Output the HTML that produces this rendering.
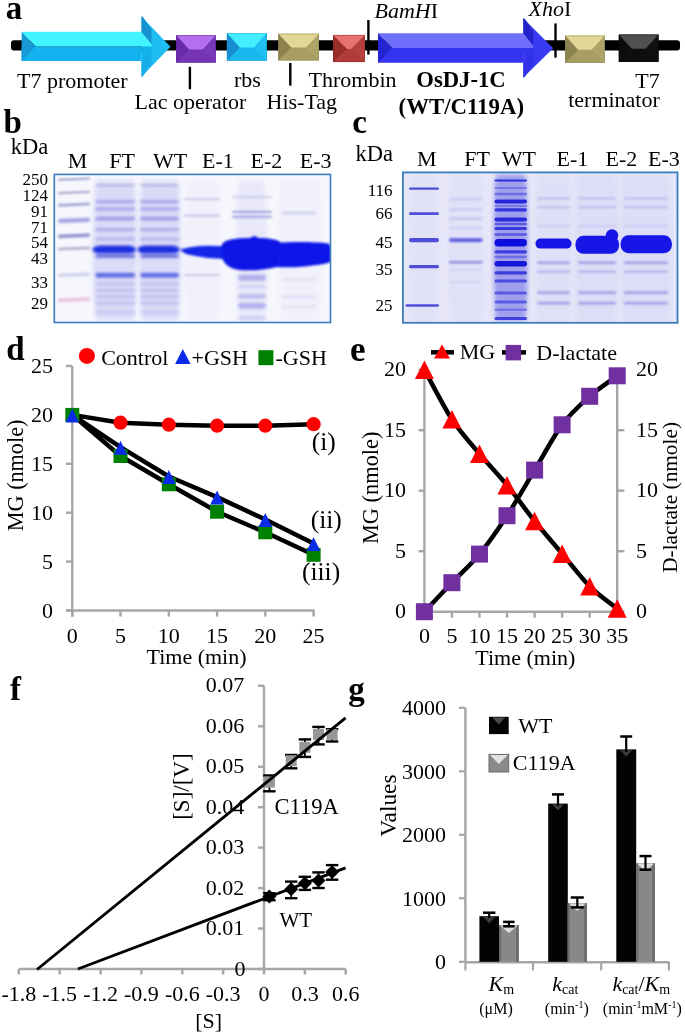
<!DOCTYPE html>
<html><head><meta charset="utf-8"><style>
html,body{margin:0;padding:0;background:#fff;}
svg{display:block;will-change:transform;}
text{font-family:"Liberation Serif",serif;}
</style></head><body>
<svg width="685" height="1033" viewBox="0 0 685 1033">
<rect width="685" height="1033" fill="#fff"/>
<defs>
<filter id="b05" x="-10%" y="-100%" width="120%" height="300%"><feGaussianBlur stdDeviation="0.6"/></filter>
<filter id="b15" x="-10%" y="-100%" width="120%" height="300%"><feGaussianBlur stdDeviation="1.4"/></filter>
<filter id="b1" x="-10%" y="-100%" width="120%" height="300%"><feGaussianBlur stdDeviation="1"/></filter>
<filter id="b2" x="-10%" y="-10%" width="120%" height="120%"><feGaussianBlur stdDeviation="2"/></filter>
<clipPath id="clipb"><rect x="54.3" y="174.4" width="276.2" height="148.1"/></clipPath>
<clipPath id="clipc"><rect x="402.9" y="172.4" width="274.6" height="150.4"/></clipPath>
</defs>
<text x="5.8" y="18.5" font-size="33" font-weight="bold" fill="#000" >a</text>
<rect x="11" y="40.2" width="669" height="10.2" rx="3" fill="#000"/>
<polygon points="21.6,46.4 141.5,46.4 141.5,61.0 21.6,61.0" fill="#12B2EE" />
<polygon points="141.5,16.6 170.5,46.8 141.5,76.8" fill="#1FBDF2" />
<polygon points="141.5,61.0 151.5,48.4 151.5,46.4 141.5,46.4" fill="#12B2EE" />
<polygon points="21.6,31.8 141.5,31.8 151.5,43.9 151.5,46.4 35.6,46.4" fill="#42F4FF" />
<polygon points="21.6,31.8 35.6,46.4 21.6,61.0" fill="#1A98D6" />
<polygon points="141.5,16.6 142.5,16.6 151.5,29.6 151.5,43.9 141.5,31.8" fill="#1690D0" />
<polygon points="141.5,76.8 142.5,76.8 151.5,63.8 151.5,48.4 141.5,61.0" fill="#17AEE8" />
<rect x="176.2" y="35.2" width="39.5" height="27.5" fill="#7434B4"/>
<polygon points="176.2,35.2 189.2,49.5 176.2,62.7" fill="#6A2AA8" />
<polygon points="215.7,35.2 202.7,49.5 215.7,62.7" fill="#7838B8" />
<polygon points="176.2,35.2 215.7,35.2 202.7,49.5 189.2,49.5" fill="#B46EF0" />
<rect x="176.6" y="35.6" width="38.7" height="26.7" fill="none" stroke="#5a2094" stroke-width="0.6" stroke-opacity="0.6"/>
<rect x="226.9" y="33.0" width="39.9" height="27.8" fill="#1AB8EE"/>
<polygon points="226.9,33.0 239.9,47.4 226.9,60.8" fill="#168ED0" />
<polygon points="266.8,33.0 253.8,47.4 266.8,60.8" fill="#20C0F2" />
<polygon points="226.9,33.0 266.8,33.0 253.8,47.4 239.9,47.4" fill="#45EEFF" />
<rect x="227.3" y="33.4" width="39.1" height="27.0" fill="none" stroke="#1490cc" stroke-width="0.6" stroke-opacity="0.6"/>
<rect x="278.4" y="33.7" width="40.6" height="26.8" fill="#A89E62"/>
<polygon points="278.4,33.7 291.4,47.6 278.4,60.5" fill="#8C8350" />
<polygon points="319.0,33.7 306.0,47.6 319.0,60.5" fill="#AEA468" />
<polygon points="278.4,33.7 319.0,33.7 306.0,47.6 291.4,47.6" fill="#E2D796" />
<rect x="278.8" y="34.1" width="39.8" height="26.0" fill="none" stroke="#857c48" stroke-width="0.6" stroke-opacity="0.6"/>
<rect x="333.0" y="34.9" width="32.0" height="27.2" fill="#B03C38"/>
<polygon points="333.0,34.9 347.0,49.0 333.0,62.1" fill="#982E2A" />
<polygon points="365.0,34.9 351.0,49.0 365.0,62.1" fill="#B6403C" />
<polygon points="333.0,34.9 365.0,34.9 351.0,49.0 347.0,49.0" fill="#E87272" />
<rect x="333.4" y="35.3" width="31.2" height="26.4" fill="none" stroke="#8a2622" stroke-width="0.6" stroke-opacity="0.6"/>
<polygon points="378.0,48.1 523.3,48.1 523.3,62.8 378.0,62.8" fill="#3434F0" />
<polygon points="523.3,18.2 553.2,48.2 523.3,77.6" fill="#3A3AF4" />
<polygon points="523.3,62.8 533.3,50.1 533.3,48.1 523.3,48.1" fill="#3434F0" />
<polygon points="378.0,33.2 523.3,33.2 533.3,45.6 533.3,48.1 392.0,48.1" fill="#6E6EFA" />
<polygon points="378.0,33.2 392.0,48.1 378.0,62.8" fill="#2424D2" />
<polygon points="523.3,18.2 524.3,18.2 533.3,31.2 533.3,45.6 523.3,33.2" fill="#2222C8" />
<polygon points="523.3,77.6 524.3,77.6 533.3,64.6 533.3,50.1 523.3,62.8" fill="#3030E6" />
<rect x="565.2" y="35.6" width="39.5" height="27.3" fill="#A89E62"/>
<polygon points="565.2,35.6 578.2,49.8 565.2,62.9" fill="#8C8350" />
<polygon points="604.7,35.6 591.7,49.8 604.7,62.9" fill="#AEA468" />
<polygon points="565.2,35.6 604.7,35.6 591.7,49.8 578.2,49.8" fill="#E2D796" />
<rect x="565.6" y="36.0" width="38.7" height="26.5" fill="none" stroke="#857c48" stroke-width="0.6" stroke-opacity="0.6"/>
<rect x="618.8" y="34.6" width="39.7" height="27.4" fill="#0E0E0E"/>
<polygon points="618.8,34.6 631.8,48.8 618.8,62.0" fill="#0C0C0C" />
<polygon points="658.5,34.6 645.5,48.8 658.5,62.0" fill="#101010" />
<polygon points="618.8,34.6 658.5,34.6 645.5,48.8 631.8,48.8" fill="#505050" />
<rect x="619.2" y="35.0" width="38.9" height="26.6" fill="none" stroke="#000" stroke-width="0.6" stroke-opacity="0.6"/>
<line x1="368.4" y1="20" x2="368.4" y2="54.6" stroke="#000" stroke-width="2.4"/>
<line x1="555.5" y1="23.4" x2="555.5" y2="57.7" stroke="#000" stroke-width="2.4"/>
<line x1="189.9" y1="66.8" x2="189.9" y2="89.2" stroke="#000" stroke-width="2.4"/>
<line x1="290.3" y1="63.0" x2="290.3" y2="85.6" stroke="#000" stroke-width="2.4"/>
<text x="17.0" y="87.7" font-size="22" fill="#000" >T7 promoter</text>
<text x="134.5" y="109.4" font-size="22" fill="#000" >Lac operator</text>
<text x="234.0" y="86.8" font-size="22" fill="#000" >rbs</text>
<text x="266.5" y="109.4" font-size="22" fill="#000" >His-Tag</text>
<text x="308.5" y="86.8" font-size="22" fill="#000" >Thrombin</text>
<text x="374.5" y="17.7" font-size="22"><tspan font-style="italic">BamH</tspan>I</text>
<text x="528.5" y="16.4" font-size="22"><tspan font-style="italic">Xho</tspan>I</text>
<text x="461.0" y="87.0" font-size="22.7" font-weight="bold" text-anchor="middle" fill="#000" >OsDJ-1C</text>
<text x="461.3" y="114.0" font-size="22.8" font-weight="bold" text-anchor="middle" fill="#000" >(WT/C119A)</text>
<text x="647.5" y="88.0" font-size="22" text-anchor="middle" fill="#000" >T7</text>
<text x="614.0" y="106.5" font-size="22" text-anchor="middle" fill="#000" >terminator</text>
<text x="3.6" y="133.3" font-size="33" font-weight="bold" fill="#000" >b</text>
<text x="10.7" y="154.0" font-size="22.5" fill="#000" >kDa</text>
<text x="77.5" y="167.8" font-size="22" text-anchor="middle" fill="#000" >M</text>
<text x="122.0" y="167.8" font-size="22" text-anchor="middle" fill="#000" >FT</text>
<text x="170.0" y="167.8" font-size="22" text-anchor="middle" fill="#000" >WT</text>
<text x="218.0" y="167.8" font-size="22" text-anchor="middle" fill="#000" >E-1</text>
<text x="266.5" y="167.8" font-size="22" text-anchor="middle" fill="#000" >E-2</text>
<text x="315.6" y="167.8" font-size="22" text-anchor="middle" fill="#000" >E-3</text>
<text x="48.0" y="184.7" font-size="17" text-anchor="end" fill="#000" >250</text>
<text x="48.0" y="200.5" font-size="17" text-anchor="end" fill="#000" >124</text>
<text x="48.0" y="216.5" font-size="17" text-anchor="end" fill="#000" >91</text>
<text x="48.0" y="232.6" font-size="17" text-anchor="end" fill="#000" >71</text>
<text x="48.0" y="248.3" font-size="17" text-anchor="end" fill="#000" >54</text>
<text x="48.0" y="264.0" font-size="17" text-anchor="end" fill="#000" >43</text>
<text x="48.0" y="287.8" font-size="17" text-anchor="end" fill="#000" >33</text>
<text x="48.0" y="309.0" font-size="17" text-anchor="end" fill="#000" >29</text>
<rect x="54.3" y="174.4" width="276.2" height="148.1" fill="#F6F6FD"/>
<g clip-path="url(#clipb)">
<rect x="93.0" y="180.4" width="44.0" height="140.1" rx="4.0" ry="70.0" fill="#D2D2F6" fill-opacity="0.75" filter="url(#b2)"/>
<rect x="139.0" y="180.4" width="42.0" height="140.1" rx="4.0" ry="70.0" fill="#D2D2F6" fill-opacity="0.75" filter="url(#b2)"/>
<rect x="184.0" y="180.4" width="37.4" height="140.1" rx="4.0" ry="70.0" fill="#E8E8F8" fill-opacity="0.35" filter="url(#b2)"/>
<rect x="236.0" y="180.4" width="31.0" height="140.1" rx="4.0" ry="70.0" fill="#DCDCF6" fill-opacity="0.55" filter="url(#b2)"/>
<rect x="278.0" y="180.4" width="44.0" height="140.1" rx="4.0" ry="70.0" fill="#E8E8F8" fill-opacity="0.35" filter="url(#b2)"/>
<g transform="rotate(-2.5 74 179.3)">
<rect x="58.0" y="178.6" width="32.2" height="1.4" rx="0.7" ry="0.7" fill="#7272A8" fill-opacity="0.85" filter="url(#b1)"/>
</g>
<g transform="rotate(-2.5 74 192.4)">
<rect x="58.0" y="191.7" width="32.2" height="1.5" rx="0.8" ry="0.8" fill="#7070AC" fill-opacity="0.85" filter="url(#b1)"/>
</g>
<g transform="rotate(-2.5 74 204.7)">
<rect x="58.0" y="203.6" width="32.2" height="2.2" rx="1.1" ry="1.1" fill="#7C7CB8" fill-opacity="0.8" filter="url(#b1)"/>
</g>
<g transform="rotate(-2.5 74 220.4)">
<rect x="58.0" y="218.3" width="32.2" height="4.2" rx="2.1" ry="2.1" fill="#9494E0" fill-opacity="0.85" filter="url(#b1)"/>
</g>
<g transform="rotate(-2.5 74 235.7)">
<rect x="58.0" y="234.0" width="32.2" height="3.4" rx="1.7" ry="1.7" fill="#8080C8" fill-opacity="0.85" filter="url(#b1)"/>
</g>
<g transform="rotate(-2.5 74 248.5)">
<rect x="58.0" y="247.3" width="32.2" height="2.4" rx="1.2" ry="1.2" fill="#8A8AB8" fill-opacity="0.7" filter="url(#b1)"/>
</g>
<g transform="rotate(-2.5 74 274.8)">
<rect x="58.0" y="273.3" width="32.2" height="3.0" rx="1.5" ry="1.5" fill="#B0B0DC" fill-opacity="0.6" filter="url(#b1)"/>
</g>
<g transform="rotate(-2.5 74 299.8)">
<rect x="58.0" y="298.1" width="32.2" height="3.5" rx="1.8" ry="1.8" fill="#E4B4D8" fill-opacity="0.8" filter="url(#b1)"/>
</g>
<rect x="95.4" y="184.6" width="39.6" height="1.5" rx="0.8" ry="0.8" fill="#8888C0" fill-opacity="0.7" filter="url(#b15)"/>
<rect x="95.4" y="200.2" width="39.6" height="3.0" rx="1.5" ry="1.5" fill="#9090E6" fill-opacity="0.8" filter="url(#b15)"/>
<rect x="95.4" y="207.5" width="39.6" height="3.0" rx="1.5" ry="1.5" fill="#9090E6" fill-opacity="0.8" filter="url(#b15)"/>
<rect x="95.4" y="216.9" width="39.6" height="3.4" rx="1.7" ry="1.7" fill="#8686E2" fill-opacity="0.85" filter="url(#b15)"/>
<rect x="95.4" y="228.2" width="39.6" height="2.8" rx="1.4" ry="1.4" fill="#9696E4" fill-opacity="0.8" filter="url(#b15)"/>
<rect x="95.4" y="237.5" width="39.6" height="3.0" rx="1.5" ry="1.5" fill="#A0A0E8" fill-opacity="0.7" filter="url(#b15)"/>
<rect x="95.4" y="254.3" width="39.6" height="3.4" rx="1.7" ry="1.7" fill="#4C58D8" fill-opacity="0.85" filter="url(#b15)"/>
<rect x="95.4" y="272.9" width="39.6" height="4.5" rx="2.2" ry="2.2" fill="#5060E0" fill-opacity="0.95" filter="url(#b15)"/>
<rect x="95.4" y="282.4" width="39.6" height="3.0" rx="1.5" ry="1.5" fill="#B0B0EA" fill-opacity="0.7" filter="url(#b15)"/>
<rect x="95.4" y="288.9" width="39.6" height="3.0" rx="1.5" ry="1.5" fill="#B0B0EC" fill-opacity="0.7" filter="url(#b15)"/>
<rect x="95.4" y="295.5" width="39.6" height="3.0" rx="1.5" ry="1.5" fill="#B0B0EC" fill-opacity="0.7" filter="url(#b15)"/>
<rect x="95.4" y="302.1" width="39.6" height="3.0" rx="1.5" ry="1.5" fill="#B4B4EC" fill-opacity="0.7" filter="url(#b15)"/>
<rect x="95.4" y="310.8" width="39.6" height="3.0" rx="1.5" ry="1.5" fill="#BCBCEE" fill-opacity="0.7" filter="url(#b15)"/>
<rect x="92.4" y="245.6" width="43.6" height="8.0" rx="9.0" ry="4.0" fill="#1E2EE0" fill-opacity="1" filter="url(#b15)"/>
<rect x="140.3" y="184.6" width="38.5" height="1.5" rx="0.8" ry="0.8" fill="#8888C0" fill-opacity="0.7" filter="url(#b15)"/>
<rect x="140.3" y="200.2" width="38.5" height="3.0" rx="1.5" ry="1.5" fill="#9090E6" fill-opacity="0.8" filter="url(#b15)"/>
<rect x="140.3" y="207.5" width="38.5" height="3.0" rx="1.5" ry="1.5" fill="#9090E6" fill-opacity="0.8" filter="url(#b15)"/>
<rect x="140.3" y="216.9" width="38.5" height="3.4" rx="1.7" ry="1.7" fill="#8686E2" fill-opacity="0.85" filter="url(#b15)"/>
<rect x="140.3" y="228.2" width="38.5" height="2.8" rx="1.4" ry="1.4" fill="#9696E4" fill-opacity="0.8" filter="url(#b15)"/>
<rect x="140.3" y="237.5" width="38.5" height="3.0" rx="1.5" ry="1.5" fill="#A0A0E8" fill-opacity="0.7" filter="url(#b15)"/>
<rect x="140.3" y="254.3" width="38.5" height="3.4" rx="1.7" ry="1.7" fill="#4C58D8" fill-opacity="0.85" filter="url(#b15)"/>
<rect x="140.3" y="272.9" width="38.5" height="4.5" rx="2.2" ry="2.2" fill="#5060E0" fill-opacity="0.95" filter="url(#b15)"/>
<rect x="140.3" y="282.4" width="38.5" height="3.0" rx="1.5" ry="1.5" fill="#B0B0EA" fill-opacity="0.7" filter="url(#b15)"/>
<rect x="140.3" y="288.9" width="38.5" height="3.0" rx="1.5" ry="1.5" fill="#B0B0EC" fill-opacity="0.7" filter="url(#b15)"/>
<rect x="140.3" y="295.5" width="38.5" height="3.0" rx="1.5" ry="1.5" fill="#B0B0EC" fill-opacity="0.7" filter="url(#b15)"/>
<rect x="140.3" y="302.1" width="38.5" height="3.0" rx="1.5" ry="1.5" fill="#B4B4EC" fill-opacity="0.7" filter="url(#b15)"/>
<rect x="140.3" y="310.8" width="38.5" height="3.0" rx="1.5" ry="1.5" fill="#BCBCEE" fill-opacity="0.7" filter="url(#b15)"/>
<rect x="137.3" y="245.6" width="42.5" height="8.0" rx="9.0" ry="4.0" fill="#1E2EE0" fill-opacity="1" filter="url(#b15)"/>
<rect x="184.0" y="198.4" width="36.0" height="1.5" rx="0.8" ry="0.8" fill="#A0A0D0" fill-opacity="0.6" filter="url(#b1)"/>
<rect x="184.0" y="214.5" width="36.0" height="2.0" rx="1.0" ry="1.0" fill="#A0A0D8" fill-opacity="0.6" filter="url(#b1)"/>
<rect x="184.0" y="274.4" width="36.0" height="1.5" rx="0.8" ry="0.8" fill="#A0A0D0" fill-opacity="0.6" filter="url(#b1)"/>
<rect x="232.0" y="196.2" width="40.0" height="1.5" rx="0.8" ry="0.8" fill="#A8A8D8" fill-opacity="0.6" filter="url(#b1)"/>
<rect x="232.0" y="211.0" width="40.0" height="2.0" rx="1.0" ry="1.0" fill="#8C8CD0" fill-opacity="0.8" filter="url(#b1)"/>
<rect x="232.0" y="215.7" width="40.0" height="2.0" rx="1.0" ry="1.0" fill="#8C8CD0" fill-opacity="0.8" filter="url(#b1)"/>
<rect x="238.0" y="274.8" width="28.0" height="6.0" rx="3.0" ry="3.0" fill="#A8A8EC" fill-opacity="0.9" filter="url(#b15)"/>
<rect x="238.0" y="285.0" width="28.0" height="3.0" rx="1.5" ry="1.5" fill="#C4C4F2" fill-opacity="0.7" filter="url(#b15)"/>
<rect x="238.0" y="294.2" width="28.0" height="4.0" rx="2.0" ry="2.0" fill="#ACACEC" fill-opacity="0.85" filter="url(#b15)"/>
<rect x="238.0" y="303.1" width="28.0" height="5.5" rx="2.8" ry="2.8" fill="#A8A8EC" fill-opacity="0.9" filter="url(#b15)"/>
<rect x="238.0" y="316.5" width="28.0" height="3.0" rx="1.5" ry="1.5" fill="#B8B8EE" fill-opacity="0.7" filter="url(#b15)"/>
<rect x="282.0" y="212.3" width="34.0" height="1.8" rx="0.9" ry="0.9" fill="#A8A8DC" fill-opacity="0.7" filter="url(#b15)"/>
<rect x="282.0" y="278.2" width="34.0" height="2.5" rx="1.2" ry="1.2" fill="#D0D0F0" fill-opacity="0.6" filter="url(#b15)"/>
<rect x="282.0" y="295.8" width="34.0" height="2.5" rx="1.2" ry="1.2" fill="#D0C8EC" fill-opacity="0.6" filter="url(#b15)"/>
<rect x="282.0" y="305.4" width="34.0" height="2.5" rx="1.2" ry="1.2" fill="#E0C8E8" fill-opacity="0.6" filter="url(#b15)"/>
<path d="M180,250 C190,246 205,245.5 215,246 L228,246 L228,258.5 C210,259.5 196,256 186,254 Z" fill="#1426E8" filter="url(#b1)"/>
<path d="M222,244 C226,238.5 240,238 250,238 C253,236 256,235.5 258,238 C268,238 276,239 280,242 L280,266 C268,270 250,271 240,270 C228,269 222,262 222,255 Z" fill="#0A16E6" filter="url(#b1)"/>
<path d="M276,243 C290,241.5 315,241.5 329,243.5 L331,247 L331,262 C318,266 295,268 278,267 Z" fill="#0C18E8" filter="url(#b1)"/>
</g>
<rect x="54.3" y="174.4" width="276.2" height="148.1" fill="none" stroke="#3A7CBC" stroke-width="1.6"/>
<text x="352.3" y="133.2" font-size="33" font-weight="bold" fill="#000" >c</text>
<text x="355.5" y="161.2" font-size="22.5" fill="#000" >kDa</text>
<text x="426.8" y="165.5" font-size="22" text-anchor="middle" fill="#000" >M</text>
<text x="477.2" y="165.5" font-size="22" text-anchor="middle" fill="#000" >FT</text>
<text x="518.9" y="165.5" font-size="22" text-anchor="middle" fill="#000" >WT</text>
<text x="572.5" y="165.5" font-size="22" text-anchor="middle" fill="#000" >E-1</text>
<text x="621.4" y="165.5" font-size="22" text-anchor="middle" fill="#000" >E-2</text>
<text x="664.0" y="165.5" font-size="22" text-anchor="middle" fill="#000" >E-3</text>
<text x="392.5" y="195.6" font-size="17" text-anchor="end" fill="#000" >116</text>
<text x="392.5" y="218.7" font-size="17" text-anchor="end" fill="#000" >66</text>
<text x="392.5" y="248.3" font-size="17" text-anchor="end" fill="#000" >45</text>
<text x="392.5" y="275.3" font-size="17" text-anchor="end" fill="#000" >35</text>
<text x="392.5" y="311.3" font-size="17" text-anchor="end" fill="#000" >25</text>
<rect x="402.9" y="172.4" width="274.6" height="150.4" fill="#E6E6F8"/>
<g clip-path="url(#clipc)">
<rect x="409.0" y="174.4" width="29.7" height="146.4" rx="3.0" ry="73.2" fill="#DCDCF6" fill-opacity="0.3" filter="url(#b2)"/>
<rect x="448.9" y="174.4" width="33.7" height="146.4" rx="3.0" ry="73.2" fill="#D8D8F6" fill-opacity="0.35" filter="url(#b2)"/>
<rect x="493.5" y="174.4" width="34.4" height="146.4" rx="3.0" ry="73.2" fill="#9C9CEC" fill-opacity="0.95" filter="url(#b2)"/>
<rect x="535.4" y="174.4" width="35.9" height="146.4" rx="3.0" ry="73.2" fill="#D8D8F6" fill-opacity="0.45" filter="url(#b2)"/>
<rect x="575.2" y="174.4" width="43.1" height="146.4" rx="3.0" ry="73.2" fill="#D4D4F6" fill-opacity="0.5" filter="url(#b2)"/>
<rect x="620.0" y="174.4" width="51.6" height="146.4" rx="3.0" ry="73.2" fill="#D4D4F6" fill-opacity="0.5" filter="url(#b2)"/>
<rect x="409.0" y="187.5" width="30.0" height="2.2" rx="1.1" ry="1.1" fill="#4646D8" fill-opacity="0.95" filter="url(#b05)"/>
<rect x="409.0" y="212.2" width="30.0" height="2.8" rx="1.4" ry="1.4" fill="#4646D8" fill-opacity="0.95" filter="url(#b05)"/>
<rect x="409.0" y="237.9" width="30.0" height="4.4" rx="2.2" ry="2.2" fill="#4646D8" fill-opacity="0.95" filter="url(#b05)"/>
<rect x="409.0" y="265.1" width="30.0" height="3.2" rx="1.6" ry="1.6" fill="#4646D8" fill-opacity="0.95" filter="url(#b05)"/>
<rect x="405.5" y="304.3" width="33.5" height="2.4" rx="1.2" ry="1.2" fill="#4646D8" fill-opacity="0.95" filter="url(#b05)"/>
<rect x="449.0" y="198.3" width="33.6" height="2.0" rx="1.0" ry="1.0" fill="#B8B8EE" fill-opacity="0.7" filter="url(#b1)"/>
<rect x="449.0" y="208.5" width="33.6" height="2.0" rx="1.0" ry="1.0" fill="#B8B8EE" fill-opacity="0.7" filter="url(#b1)"/>
<rect x="449.0" y="217.6" width="33.6" height="2.2" rx="1.1" ry="1.1" fill="#B4B4EC" fill-opacity="0.7" filter="url(#b1)"/>
<rect x="449.0" y="227.0" width="33.6" height="2.0" rx="1.0" ry="1.0" fill="#BCBCEE" fill-opacity="0.6" filter="url(#b1)"/>
<rect x="449.0" y="238.3" width="33.6" height="3.6" rx="1.8" ry="1.8" fill="#5252DC" fill-opacity="0.95" filter="url(#b1)"/>
<rect x="449.0" y="260.9" width="33.6" height="2.6" rx="1.3" ry="1.3" fill="#8484DE" fill-opacity="0.9" filter="url(#b1)"/>
<rect x="449.0" y="269.0" width="33.6" height="2.0" rx="1.0" ry="1.0" fill="#C8C8F0" fill-opacity="0.5" filter="url(#b1)"/>
<rect x="449.0" y="281.0" width="33.6" height="2.0" rx="1.0" ry="1.0" fill="#C8C8F0" fill-opacity="0.5" filter="url(#b1)"/>
<rect x="494.5" y="179.4" width="32.5" height="2.2" rx="1.1" ry="1.1" fill="#2828D8" fill-opacity="0.95" filter="url(#b05)"/>
<rect x="494.5" y="187.0" width="32.5" height="2.0" rx="1.0" ry="1.0" fill="#6A6AE4" fill-opacity="0.8" filter="url(#b05)"/>
<rect x="494.5" y="192.8" width="32.5" height="2.5" rx="1.2" ry="1.2" fill="#6060E0" fill-opacity="0.8" filter="url(#b05)"/>
<rect x="494.5" y="199.5" width="32.5" height="4.0" rx="2.0" ry="2.0" fill="#2020D8" fill-opacity="0.95" filter="url(#b05)"/>
<rect x="494.5" y="205.0" width="32.5" height="2.0" rx="1.0" ry="1.0" fill="#7070E4" fill-opacity="0.8" filter="url(#b05)"/>
<rect x="494.5" y="208.2" width="32.5" height="3.2" rx="1.6" ry="1.6" fill="#2828DC" fill-opacity="0.9" filter="url(#b05)"/>
<rect x="494.5" y="217.5" width="32.5" height="4.0" rx="2.0" ry="2.0" fill="#2424DC" fill-opacity="0.95" filter="url(#b05)"/>
<rect x="494.5" y="222.8" width="32.5" height="2.5" rx="1.2" ry="1.2" fill="#5050E0" fill-opacity="0.85" filter="url(#b05)"/>
<rect x="494.5" y="227.1" width="32.5" height="3.0" rx="1.5" ry="1.5" fill="#2C2CDC" fill-opacity="0.9" filter="url(#b05)"/>
<rect x="494.5" y="233.3" width="32.5" height="2.5" rx="1.2" ry="1.2" fill="#4A4AE0" fill-opacity="0.85" filter="url(#b05)"/>
<rect x="494.5" y="239.1" width="32.5" height="7.5" rx="3.8" ry="3.8" fill="#1010E0" fill-opacity="1" filter="url(#b05)"/>
<rect x="494.5" y="250.2" width="32.5" height="3.2" rx="1.6" ry="1.6" fill="#3434E0" fill-opacity="0.9" filter="url(#b05)"/>
<rect x="494.5" y="255.8" width="32.5" height="2.5" rx="1.2" ry="1.2" fill="#6060E4" fill-opacity="0.8" filter="url(#b05)"/>
<rect x="494.5" y="261.1" width="32.5" height="5.5" rx="2.8" ry="2.8" fill="#1414D8" fill-opacity="1" filter="url(#b05)"/>
<rect x="494.5" y="271.3" width="32.5" height="3.2" rx="1.6" ry="1.6" fill="#3030DC" fill-opacity="0.9" filter="url(#b05)"/>
<rect x="494.5" y="279.5" width="32.5" height="3.0" rx="1.5" ry="1.5" fill="#4040E0" fill-opacity="0.9" filter="url(#b05)"/>
<rect x="494.5" y="291.5" width="32.5" height="3.0" rx="1.5" ry="1.5" fill="#4C4CE0" fill-opacity="0.85" filter="url(#b05)"/>
<rect x="494.5" y="300.5" width="32.5" height="3.0" rx="1.5" ry="1.5" fill="#5050E0" fill-opacity="0.85" filter="url(#b05)"/>
<rect x="494.5" y="308.4" width="32.5" height="2.5" rx="1.2" ry="1.2" fill="#6A6AE4" fill-opacity="0.8" filter="url(#b05)"/>
<rect x="494.5" y="317.1" width="32.5" height="3.0" rx="1.5" ry="1.5" fill="#3434DC" fill-opacity="0.9" filter="url(#b05)"/>
<rect x="537.0" y="197.4" width="33.0" height="2.0" rx="1.0" ry="1.0" fill="#AEAEEA" fill-opacity="0.7" filter="url(#b1)"/>
<rect x="537.0" y="206.3" width="33.0" height="2.0" rx="1.0" ry="1.0" fill="#AEAEEA" fill-opacity="0.7" filter="url(#b1)"/>
<rect x="537.0" y="225.1" width="33.0" height="1.8" rx="0.9" ry="0.9" fill="#BCBCEE" fill-opacity="0.6" filter="url(#b1)"/>
<rect x="537.0" y="261.4" width="33.0" height="2.6" rx="1.3" ry="1.3" fill="#9090E0" fill-opacity="0.8" filter="url(#b1)"/>
<rect x="537.0" y="270.6" width="33.0" height="2.2" rx="1.1" ry="1.1" fill="#A0A0E4" fill-opacity="0.7" filter="url(#b1)"/>
<rect x="537.0" y="291.3" width="33.0" height="2.6" rx="1.3" ry="1.3" fill="#9494E2" fill-opacity="0.8" filter="url(#b1)"/>
<rect x="537.0" y="301.8" width="33.0" height="2.6" rx="1.3" ry="1.3" fill="#9494E2" fill-opacity="0.8" filter="url(#b1)"/>
<rect x="578.0" y="197.4" width="38.0" height="2.0" rx="1.0" ry="1.0" fill="#AEAEEA" fill-opacity="0.7" filter="url(#b1)"/>
<rect x="578.0" y="206.3" width="38.0" height="2.0" rx="1.0" ry="1.0" fill="#AEAEEA" fill-opacity="0.7" filter="url(#b1)"/>
<rect x="578.0" y="225.1" width="38.0" height="1.8" rx="0.9" ry="0.9" fill="#BCBCEE" fill-opacity="0.6" filter="url(#b1)"/>
<rect x="578.0" y="261.4" width="38.0" height="2.6" rx="1.3" ry="1.3" fill="#9090E0" fill-opacity="0.8" filter="url(#b1)"/>
<rect x="578.0" y="270.6" width="38.0" height="2.2" rx="1.1" ry="1.1" fill="#A0A0E4" fill-opacity="0.7" filter="url(#b1)"/>
<rect x="578.0" y="291.3" width="38.0" height="2.6" rx="1.3" ry="1.3" fill="#9494E2" fill-opacity="0.8" filter="url(#b1)"/>
<rect x="578.0" y="301.8" width="38.0" height="2.6" rx="1.3" ry="1.3" fill="#9494E2" fill-opacity="0.8" filter="url(#b1)"/>
<rect x="624.0" y="197.4" width="44.0" height="2.0" rx="1.0" ry="1.0" fill="#AEAEEA" fill-opacity="0.7" filter="url(#b1)"/>
<rect x="624.0" y="206.3" width="44.0" height="2.0" rx="1.0" ry="1.0" fill="#AEAEEA" fill-opacity="0.7" filter="url(#b1)"/>
<rect x="624.0" y="225.1" width="44.0" height="1.8" rx="0.9" ry="0.9" fill="#BCBCEE" fill-opacity="0.6" filter="url(#b1)"/>
<rect x="624.0" y="261.4" width="44.0" height="2.6" rx="1.3" ry="1.3" fill="#9090E0" fill-opacity="0.8" filter="url(#b1)"/>
<rect x="624.0" y="270.6" width="44.0" height="2.2" rx="1.1" ry="1.1" fill="#A0A0E4" fill-opacity="0.7" filter="url(#b1)"/>
<rect x="624.0" y="291.3" width="44.0" height="2.6" rx="1.3" ry="1.3" fill="#9494E2" fill-opacity="0.8" filter="url(#b1)"/>
<rect x="624.0" y="301.8" width="44.0" height="2.6" rx="1.3" ry="1.3" fill="#9494E2" fill-opacity="0.8" filter="url(#b1)"/>
<rect x="535.5" y="238.6" width="36" height="10" rx="5" ry="4.5" fill="#1818E6" filter="url(#b05)"/>
<rect x="575.5" y="235.8" width="43.5" height="18" rx="8" ry="8" fill="#1414E6" filter="url(#b05)"/>
<circle cx="612" cy="235.5" r="6.2" fill="#1414E6" filter="url(#b05)"/>
<rect x="620.5" y="235.2" width="51.5" height="18" rx="8" ry="8.5" fill="#1414E6" filter="url(#b05)"/>
</g>
<rect x="402.9" y="172.4" width="274.6" height="150.4" fill="none" stroke="#3A7CBC" stroke-width="1.8"/>
<text x="6.2" y="359.5" font-size="33" font-weight="bold" fill="#000" >d</text>
<line x1="72.3" y1="366.0" x2="72.3" y2="616.6" stroke="#A6A6A6" stroke-width="2.4" />
<line x1="66.0" y1="610.5" x2="314.6" y2="610.5" stroke="#A6A6A6" stroke-width="2.4" />
<line x1="66.0" y1="610.5" x2="72.3" y2="610.5" stroke="#A6A6A6" stroke-width="2.4" />
<text x="53.0" y="617.7" font-size="22" text-anchor="end" fill="#000" >0</text>
<line x1="72.3" y1="610.5" x2="72.3" y2="616.6" stroke="#A6A6A6" stroke-width="2.4" />
<text x="72.3" y="643.3" font-size="22" text-anchor="middle" fill="#000" >0</text>
<line x1="66.0" y1="561.6" x2="72.3" y2="561.6" stroke="#A6A6A6" stroke-width="2.4" />
<text x="53.0" y="568.8" font-size="22" text-anchor="end" fill="#000" >5</text>
<line x1="120.5" y1="610.5" x2="120.5" y2="616.6" stroke="#A6A6A6" stroke-width="2.4" />
<text x="120.5" y="643.3" font-size="22" text-anchor="middle" fill="#000" >5</text>
<line x1="66.0" y1="512.7" x2="72.3" y2="512.7" stroke="#A6A6A6" stroke-width="2.4" />
<text x="53.0" y="519.9" font-size="22" text-anchor="end" fill="#000" >10</text>
<line x1="168.8" y1="610.5" x2="168.8" y2="616.6" stroke="#A6A6A6" stroke-width="2.4" />
<text x="168.8" y="643.3" font-size="22" text-anchor="middle" fill="#000" >10</text>
<line x1="66.0" y1="463.8" x2="72.3" y2="463.8" stroke="#A6A6A6" stroke-width="2.4" />
<text x="53.0" y="471.0" font-size="22" text-anchor="end" fill="#000" >15</text>
<line x1="217.1" y1="610.5" x2="217.1" y2="616.6" stroke="#A6A6A6" stroke-width="2.4" />
<text x="217.1" y="643.3" font-size="22" text-anchor="middle" fill="#000" >15</text>
<line x1="66.0" y1="414.9" x2="72.3" y2="414.9" stroke="#A6A6A6" stroke-width="2.4" />
<text x="53.0" y="422.1" font-size="22" text-anchor="end" fill="#000" >20</text>
<line x1="265.3" y1="610.5" x2="265.3" y2="616.6" stroke="#A6A6A6" stroke-width="2.4" />
<text x="265.3" y="643.3" font-size="22" text-anchor="middle" fill="#000" >20</text>
<line x1="66.0" y1="366.0" x2="72.3" y2="366.0" stroke="#A6A6A6" stroke-width="2.4" />
<text x="53.0" y="373.2" font-size="22" text-anchor="end" fill="#000" >25</text>
<line x1="313.6" y1="610.5" x2="313.6" y2="616.6" stroke="#A6A6A6" stroke-width="2.4" />
<text x="313.6" y="643.3" font-size="22" text-anchor="middle" fill="#000" >25</text>
<text x="146.5" y="664.4" font-size="22" fill="#000" >Time (min)</text>
<text transform="translate(22.6,475.4) rotate(-90)" font-size="22.2" text-anchor="middle">MG (nmole)</text>
<polyline points="72.3,414.9 120.5,422.7 168.8,424.7 217.1,425.7 265.3,425.7 313.6,424.2" fill="none" stroke="#000" stroke-width="4.5" stroke-linejoin="round" stroke-linecap="round" />
<polyline points="72.3,414.9 120.5,447.2 168.8,476.5 217.1,497.1 265.3,519.5 313.6,543.5" fill="none" stroke="#000" stroke-width="4.5" stroke-linejoin="round" stroke-linecap="round" />
<polyline points="72.3,414.9 120.5,456.0 168.8,484.3 217.1,511.7 265.3,532.3 313.6,554.8" fill="none" stroke="#000" stroke-width="4.5" stroke-linejoin="round" stroke-linecap="round" />
<circle cx="120.5" cy="422.7" r="7.1" fill="#FF0000"/>
<circle cx="168.8" cy="424.7" r="7.1" fill="#FF0000"/>
<circle cx="217.1" cy="425.7" r="7.1" fill="#FF0000"/>
<circle cx="265.3" cy="425.7" r="7.1" fill="#FF0000"/>
<circle cx="313.6" cy="424.2" r="7.1" fill="#FF0000"/>
<rect x="65.3" y="407.9" width="14.0" height="14.0" fill="#008000" />
<rect x="113.5" y="449.0" width="14.0" height="14.0" fill="#008000" />
<rect x="161.8" y="477.3" width="14.0" height="14.0" fill="#008000" />
<rect x="210.1" y="504.7" width="14.0" height="14.0" fill="#008000" />
<rect x="258.3" y="525.3" width="14.0" height="14.0" fill="#008000" />
<rect x="306.6" y="547.8" width="14.0" height="14.0" fill="#008000" />
<polygon points="72.3,408.4 79.0,422.4 65.5,422.4" fill="#0A2BE8" />
<polygon points="120.5,440.7 127.3,454.7 113.8,454.7" fill="#0A2BE8" />
<polygon points="168.8,470.0 175.6,484.0 162.1,484.0" fill="#0A2BE8" />
<polygon points="217.1,490.6 223.8,504.6 210.3,504.6" fill="#0A2BE8" />
<polygon points="265.3,513.0 272.1,527.0 258.6,527.0" fill="#0A2BE8" />
<polygon points="313.6,537.0 320.3,551.0 306.8,551.0" fill="#0A2BE8" />
<text x="311.8" y="449.9" font-size="25.5" fill="#000" >(i)</text>
<text x="310.7" y="528.2" font-size="25.5" fill="#000" >(ii)</text>
<text x="301.9" y="579.8" font-size="25.5" fill="#000" >(iii)</text>
<circle cx="86.9" cy="355.9" r="8.0" fill="#FF0000"/>
<text x="101.2" y="365.1" font-size="22" fill="#000" >Control</text>
<polygon points="182.8,349.0 190.6,364.0 175.1,364.0" fill="#0A2BE8" />
<text x="191.5" y="365.1" font-size="22" fill="#000" >+GSH</text>
<rect x="258.4" y="350.2" width="15.0" height="15.0" fill="#008000" />
<text x="275.5" y="365.1" font-size="22" fill="#000" >-GSH</text>
<text x="350.0" y="361.3" font-size="35" font-weight="bold" fill="#000" >e</text>
<line x1="424.4" y1="369.7" x2="424.4" y2="611.7" stroke="#A6A6A6" stroke-width="2.4" />
<line x1="617.2" y1="369.7" x2="617.2" y2="611.7" stroke="#A6A6A6" stroke-width="2.4" />
<line x1="424.4" y1="611.7" x2="617.2" y2="611.7" stroke="#A6A6A6" stroke-width="2.4" />
<line x1="418.6" y1="611.7" x2="424.4" y2="611.7" stroke="#A6A6A6" stroke-width="2.4" />
<line x1="617.2" y1="611.7" x2="624.4" y2="611.7" stroke="#A6A6A6" stroke-width="2.4" />
<text x="406.0" y="618.2" font-size="22" text-anchor="end" fill="#000" >0</text>
<text x="636.0" y="618.2" font-size="22" fill="#000" >0</text>
<line x1="418.6" y1="551.2" x2="424.4" y2="551.2" stroke="#A6A6A6" stroke-width="2.4" />
<line x1="617.2" y1="551.2" x2="624.4" y2="551.2" stroke="#A6A6A6" stroke-width="2.4" />
<text x="406.0" y="557.7" font-size="22" text-anchor="end" fill="#000" >5</text>
<text x="636.0" y="557.7" font-size="22" fill="#000" >5</text>
<line x1="418.6" y1="490.7" x2="424.4" y2="490.7" stroke="#A6A6A6" stroke-width="2.4" />
<line x1="617.2" y1="490.7" x2="624.4" y2="490.7" stroke="#A6A6A6" stroke-width="2.4" />
<text x="406.0" y="497.2" font-size="22" text-anchor="end" fill="#000" >10</text>
<text x="636.0" y="497.2" font-size="22" fill="#000" >10</text>
<line x1="418.6" y1="430.2" x2="424.4" y2="430.2" stroke="#A6A6A6" stroke-width="2.4" />
<line x1="617.2" y1="430.2" x2="624.4" y2="430.2" stroke="#A6A6A6" stroke-width="2.4" />
<text x="406.0" y="436.7" font-size="22" text-anchor="end" fill="#000" >15</text>
<text x="636.0" y="436.7" font-size="22" fill="#000" >15</text>
<line x1="418.6" y1="369.7" x2="424.4" y2="369.7" stroke="#A6A6A6" stroke-width="2.4" />
<line x1="617.2" y1="369.7" x2="624.4" y2="369.7" stroke="#A6A6A6" stroke-width="2.4" />
<text x="406.0" y="376.2" font-size="22" text-anchor="end" fill="#000" >20</text>
<text x="636.0" y="376.2" font-size="22" fill="#000" >20</text>
<line x1="424.4" y1="611.7" x2="424.4" y2="617.6" stroke="#A6A6A6" stroke-width="2.4" />
<text x="424.4" y="643.3" font-size="22" text-anchor="middle" fill="#000" >0</text>
<line x1="451.9" y1="611.7" x2="451.9" y2="617.6" stroke="#A6A6A6" stroke-width="2.4" />
<text x="451.9" y="643.3" font-size="22" text-anchor="middle" fill="#000" >5</text>
<line x1="479.5" y1="611.7" x2="479.5" y2="617.6" stroke="#A6A6A6" stroke-width="2.4" />
<text x="479.5" y="643.3" font-size="22" text-anchor="middle" fill="#000" >10</text>
<line x1="507.0" y1="611.7" x2="507.0" y2="617.6" stroke="#A6A6A6" stroke-width="2.4" />
<text x="507.0" y="643.3" font-size="22" text-anchor="middle" fill="#000" >15</text>
<line x1="534.6" y1="611.7" x2="534.6" y2="617.6" stroke="#A6A6A6" stroke-width="2.4" />
<text x="534.6" y="643.3" font-size="22" text-anchor="middle" fill="#000" >20</text>
<line x1="562.1" y1="611.7" x2="562.1" y2="617.6" stroke="#A6A6A6" stroke-width="2.4" />
<text x="562.1" y="643.3" font-size="22" text-anchor="middle" fill="#000" >25</text>
<line x1="589.7" y1="611.7" x2="589.7" y2="617.6" stroke="#A6A6A6" stroke-width="2.4" />
<text x="589.7" y="643.3" font-size="22" text-anchor="middle" fill="#000" >30</text>
<line x1="617.2" y1="611.7" x2="617.2" y2="617.6" stroke="#A6A6A6" stroke-width="2.4" />
<text x="617.2" y="643.3" font-size="22" text-anchor="middle" fill="#000" >35</text>
<text x="475.3" y="665.3" font-size="22" fill="#000" >Time (min)</text>
<text transform="translate(377.6,487.8) rotate(-90)" font-size="22.4" text-anchor="middle">MG (nmole)</text>
<text transform="translate(677.0,497.4) rotate(-90)" font-size="21.3" text-anchor="middle">D-lactate (nmole)</text>
<path d="M424.4,369.7 C429.0,378.0 442.8,405.3 451.9,419.3 C461.1,433.3 470.3,442.8 479.5,453.8 C488.7,464.8 497.8,474.1 507.0,485.3 C516.2,496.4 525.4,509.6 534.6,521.0 C543.8,532.3 552.9,542.7 562.1,553.6 C571.3,564.5 580.5,577.1 589.7,586.3 C598.8,595.4 612.6,604.8 617.2,608.6" fill="none" stroke="#000" stroke-width="4.5" stroke-linecap="round" stroke-linejoin="round"/>
<path d="M424.4,611.7 C429.0,606.9 442.8,592.3 451.9,582.7 C461.1,573.1 470.3,565.3 479.5,554.1 C488.7,543.0 497.8,529.7 507.0,515.7 C516.2,501.8 525.4,485.3 534.6,470.1 C543.8,455.0 552.9,437.1 562.1,424.8 C571.3,412.5 580.5,404.5 589.7,396.3 C598.8,388.2 612.6,379.2 617.2,375.8" fill="none" stroke="#000" stroke-width="4.5" stroke-linecap="round" stroke-linejoin="round"/>
<rect x="415.9" y="603.2" width="17.0" height="17.0" fill="#7030A0" />
<rect x="443.4" y="574.2" width="17.0" height="17.0" fill="#7030A0" />
<rect x="471.0" y="545.6" width="17.0" height="17.0" fill="#7030A0" />
<rect x="498.5" y="507.2" width="17.0" height="17.0" fill="#7030A0" />
<rect x="526.1" y="461.6" width="17.0" height="17.0" fill="#7030A0" />
<rect x="553.6" y="416.3" width="17.0" height="17.0" fill="#7030A0" />
<rect x="581.2" y="387.8" width="17.0" height="17.0" fill="#7030A0" />
<rect x="608.7" y="367.3" width="17.0" height="17.0" fill="#7030A0" />
<polygon points="424.4,360.5 433.9,379.0 414.9,379.0" fill="#FF0000" />
<polygon points="451.9,410.1 461.4,428.6 442.4,428.6" fill="#FF0000" />
<polygon points="479.5,444.5 489.0,463.0 470.0,463.0" fill="#FF0000" />
<polygon points="507.0,476.0 516.5,494.5 497.5,494.5" fill="#FF0000" />
<polygon points="534.6,511.7 544.1,530.2 525.1,530.2" fill="#FF0000" />
<polygon points="562.1,544.4 571.6,562.9 552.6,562.9" fill="#FF0000" />
<polygon points="589.7,577.0 599.2,595.5 580.2,595.5" fill="#FF0000" />
<polygon points="617.2,599.3 626.7,617.8 607.7,617.8" fill="#FF0000" />
<line x1="431.0" y1="352.3" x2="454.0" y2="352.3" stroke="#000" stroke-width="4.5" />
<polygon points="442.0,344.5 450.0,358.5 434.0,358.5" fill="#FF0000" />
<text x="459.8" y="359.4" font-size="22" fill="#000" >MG</text>
<line x1="502.0" y1="352.4" x2="526.0" y2="352.4" stroke="#000" stroke-width="4.5" />
<rect x="505.6" y="344.9" width="15.5" height="15.5" fill="#7030A0" />
<text x="536.3" y="359.9" font-size="22" fill="#000" >D-lactate</text>
<text x="9.9" y="699.5" font-size="33" font-weight="bold" fill="#000" >f</text>
<line x1="264.0" y1="685.8" x2="264.0" y2="969.0" stroke="#A6A6A6" stroke-width="2.4" />
<line x1="18.8" y1="969.0" x2="345.7" y2="969.0" stroke="#A6A6A6" stroke-width="2.4" />
<line x1="258.0" y1="969.0" x2="264.0" y2="969.0" stroke="#A6A6A6" stroke-width="2.4" />
<text x="245.5" y="975.6" font-size="22" text-anchor="end" fill="#000" >0</text>
<line x1="258.0" y1="928.5" x2="264.0" y2="928.5" stroke="#A6A6A6" stroke-width="2.4" />
<text x="244.3" y="935.1" font-size="22" text-anchor="end" fill="#000" >0.01</text>
<line x1="258.0" y1="888.1" x2="264.0" y2="888.1" stroke="#A6A6A6" stroke-width="2.4" />
<text x="244.3" y="894.7" font-size="22" text-anchor="end" fill="#000" >0.02</text>
<line x1="258.0" y1="847.6" x2="264.0" y2="847.6" stroke="#A6A6A6" stroke-width="2.4" />
<text x="244.3" y="854.2" font-size="22" text-anchor="end" fill="#000" >0.03</text>
<line x1="258.0" y1="807.2" x2="264.0" y2="807.2" stroke="#A6A6A6" stroke-width="2.4" />
<text x="244.3" y="813.8" font-size="22" text-anchor="end" fill="#000" >0.04</text>
<line x1="258.0" y1="766.8" x2="264.0" y2="766.8" stroke="#A6A6A6" stroke-width="2.4" />
<text x="244.3" y="773.4" font-size="22" text-anchor="end" fill="#000" >0.05</text>
<line x1="258.0" y1="726.3" x2="264.0" y2="726.3" stroke="#A6A6A6" stroke-width="2.4" />
<text x="244.3" y="732.9" font-size="22" text-anchor="end" fill="#000" >0.06</text>
<line x1="258.0" y1="685.8" x2="264.0" y2="685.8" stroke="#A6A6A6" stroke-width="2.4" />
<text x="244.3" y="692.4" font-size="22" text-anchor="end" fill="#000" >0.07</text>
<line x1="18.8" y1="969.0" x2="18.8" y2="974.5" stroke="#A6A6A6" stroke-width="2.4" />
<text x="18.8" y="1001.3" font-size="22" text-anchor="middle" fill="#000" >-1.8</text>
<line x1="59.7" y1="969.0" x2="59.7" y2="974.5" stroke="#A6A6A6" stroke-width="2.4" />
<text x="59.7" y="1001.3" font-size="22" text-anchor="middle" fill="#000" >-1.5</text>
<line x1="100.6" y1="969.0" x2="100.6" y2="974.5" stroke="#A6A6A6" stroke-width="2.4" />
<text x="100.6" y="1001.3" font-size="22" text-anchor="middle" fill="#000" >-1.2</text>
<line x1="141.4" y1="969.0" x2="141.4" y2="974.5" stroke="#A6A6A6" stroke-width="2.4" />
<text x="141.4" y="1001.3" font-size="22" text-anchor="middle" fill="#000" >-0.9</text>
<line x1="182.3" y1="969.0" x2="182.3" y2="974.5" stroke="#A6A6A6" stroke-width="2.4" />
<text x="182.3" y="1001.3" font-size="22" text-anchor="middle" fill="#000" >-0.6</text>
<line x1="223.1" y1="969.0" x2="223.1" y2="974.5" stroke="#A6A6A6" stroke-width="2.4" />
<text x="223.1" y="1001.3" font-size="22" text-anchor="middle" fill="#000" >-0.3</text>
<line x1="264.0" y1="969.0" x2="264.0" y2="974.5" stroke="#A6A6A6" stroke-width="2.4" />
<text x="264.0" y="1001.3" font-size="22" text-anchor="middle" fill="#000" >0</text>
<line x1="304.9" y1="969.0" x2="304.9" y2="974.5" stroke="#A6A6A6" stroke-width="2.4" />
<text x="304.9" y="1001.3" font-size="22" text-anchor="middle" fill="#000" >0.3</text>
<line x1="345.7" y1="969.0" x2="345.7" y2="974.5" stroke="#A6A6A6" stroke-width="2.4" />
<text x="345.7" y="1001.3" font-size="22" text-anchor="middle" fill="#000" >0.6</text>
<text x="195.3" y="1028.4" font-size="22" fill="#000" >[S]</text>
<text transform="translate(188.6,786.6) rotate(-90)" font-size="23" text-anchor="middle">[S]/[V]</text>
<line x1="269.4" y1="775.5" x2="269.4" y2="791.3" stroke="#000" stroke-width="1.8" />
<line x1="263.2" y1="775.5" x2="275.6" y2="775.5" stroke="#000" stroke-width="2.4" />
<line x1="263.2" y1="791.3" x2="275.6" y2="791.3" stroke="#000" stroke-width="2.4" />
<line x1="291.2" y1="755.0" x2="291.2" y2="768.3" stroke="#000" stroke-width="1.8" />
<line x1="285.0" y1="755.0" x2="297.4" y2="755.0" stroke="#000" stroke-width="2.4" />
<line x1="285.0" y1="768.3" x2="297.4" y2="768.3" stroke="#000" stroke-width="2.4" />
<line x1="304.9" y1="739.4" x2="304.9" y2="756.9" stroke="#000" stroke-width="1.8" />
<line x1="298.7" y1="739.4" x2="311.1" y2="739.4" stroke="#000" stroke-width="2.4" />
<line x1="298.7" y1="756.9" x2="311.1" y2="756.9" stroke="#000" stroke-width="2.4" />
<line x1="318.5" y1="726.9" x2="318.5" y2="744.4" stroke="#000" stroke-width="1.8" />
<line x1="312.3" y1="726.9" x2="324.7" y2="726.9" stroke="#000" stroke-width="2.4" />
<line x1="312.3" y1="744.4" x2="324.7" y2="744.4" stroke="#000" stroke-width="2.4" />
<line x1="332.1" y1="729.2" x2="332.1" y2="741.5" stroke="#000" stroke-width="1.8" />
<line x1="325.9" y1="729.2" x2="338.3" y2="729.2" stroke="#000" stroke-width="2.4" />
<line x1="325.9" y1="741.5" x2="338.3" y2="741.5" stroke="#000" stroke-width="2.4" />
<rect x="263.9" y="776.6" width="11.0" height="11.0" fill="#969696" />
<rect x="285.7" y="755.2" width="11.0" height="11.0" fill="#969696" />
<rect x="299.4" y="741.8" width="11.0" height="11.0" fill="#969696" />
<rect x="313.0" y="728.9" width="11.0" height="11.0" fill="#969696" />
<rect x="326.6" y="728.9" width="11.0" height="11.0" fill="#969696" />
<line x1="37.0" y1="969.5" x2="345.6" y2="717.8" stroke="#000" stroke-width="2.9" />
<line x1="77.9" y1="969.0" x2="345.6" y2="867.8" stroke="#000" stroke-width="2.9" />
<line x1="269.4" y1="893.2" x2="269.4" y2="900.2" stroke="#000" stroke-width="1.6" />
<line x1="263.2" y1="893.2" x2="275.6" y2="893.2" stroke="#000" stroke-width="2.4" />
<line x1="263.2" y1="900.2" x2="275.6" y2="900.2" stroke="#000" stroke-width="2.4" />
<polygon points="269.4,889.6 276.4,896.6 269.4,903.6 262.4,896.6" fill="#000" />
<line x1="291.2" y1="881.6" x2="291.2" y2="898.2" stroke="#000" stroke-width="1.6" />
<line x1="285.0" y1="881.6" x2="297.4" y2="881.6" stroke="#000" stroke-width="2.4" />
<line x1="285.0" y1="898.2" x2="297.4" y2="898.2" stroke="#000" stroke-width="2.4" />
<polygon points="291.2,882.3 298.2,889.3 291.2,896.3 284.2,889.3" fill="#000" />
<line x1="304.9" y1="876.8" x2="304.9" y2="889.9" stroke="#000" stroke-width="1.6" />
<line x1="298.7" y1="876.8" x2="311.1" y2="876.8" stroke="#000" stroke-width="2.4" />
<line x1="298.7" y1="889.9" x2="311.1" y2="889.9" stroke="#000" stroke-width="2.4" />
<polygon points="304.9,876.2 311.9,883.2 304.9,890.2 297.9,883.2" fill="#000" />
<line x1="318.5" y1="872.4" x2="318.5" y2="888.0" stroke="#000" stroke-width="1.6" />
<line x1="312.3" y1="872.4" x2="324.7" y2="872.4" stroke="#000" stroke-width="2.4" />
<line x1="312.3" y1="888.0" x2="324.7" y2="888.0" stroke="#000" stroke-width="2.4" />
<polygon points="318.5,873.4 325.5,880.4 318.5,887.4 311.5,880.4" fill="#000" />
<line x1="332.1" y1="865.1" x2="332.1" y2="879.7" stroke="#000" stroke-width="1.6" />
<line x1="325.9" y1="865.1" x2="338.3" y2="865.1" stroke="#000" stroke-width="2.4" />
<line x1="325.9" y1="879.7" x2="338.3" y2="879.7" stroke="#000" stroke-width="2.4" />
<polygon points="332.1,864.9 339.1,871.9 332.1,878.9 325.1,871.9" fill="#000" />
<text x="274.4" y="813.6" font-size="22.6" fill="#000" >C119A</text>
<text x="279.5" y="927.2" font-size="21" fill="#000" >WT</text>
<text x="348.2" y="700.0" font-size="33" font-weight="bold" fill="#000" >g</text>
<line x1="465.4" y1="707.8" x2="465.4" y2="962.8" stroke="#A6A6A6" stroke-width="2.4" />
<line x1="465.4" y1="962.3" x2="669.0" y2="962.3" stroke="#A6A6A6" stroke-width="2.4" />
<line x1="459.0" y1="961.8" x2="465.4" y2="961.8" stroke="#A6A6A6" stroke-width="2.2" />
<text x="446.0" y="969.2" font-size="22" text-anchor="end" fill="#000" >0</text>
<line x1="459.0" y1="898.3" x2="465.4" y2="898.3" stroke="#A6A6A6" stroke-width="2.2" />
<text x="446.0" y="905.7" font-size="22" text-anchor="end" fill="#000" >1000</text>
<line x1="459.0" y1="834.8" x2="465.4" y2="834.8" stroke="#A6A6A6" stroke-width="2.2" />
<text x="446.0" y="842.2" font-size="22" text-anchor="end" fill="#000" >2000</text>
<line x1="459.0" y1="771.3" x2="465.4" y2="771.3" stroke="#A6A6A6" stroke-width="2.2" />
<text x="446.0" y="778.7" font-size="22" text-anchor="end" fill="#000" >3000</text>
<line x1="459.0" y1="707.8" x2="465.4" y2="707.8" stroke="#A6A6A6" stroke-width="2.2" />
<text x="446.0" y="715.2" font-size="22" text-anchor="end" fill="#000" >4000</text>
<line x1="465.4" y1="961.8" x2="465.4" y2="970.4" stroke="#A6A6A6" stroke-width="2.2" />
<line x1="533.0" y1="961.8" x2="533.0" y2="970.4" stroke="#A6A6A6" stroke-width="2.2" />
<line x1="601.2" y1="961.8" x2="601.2" y2="970.4" stroke="#A6A6A6" stroke-width="2.2" />
<line x1="668.9" y1="961.8" x2="668.9" y2="970.4" stroke="#A6A6A6" stroke-width="2.2" />
<text transform="translate(395.6,805.6) rotate(-90)" font-size="23.4" text-anchor="middle">Values</text>
<rect x="479.4" y="916.2" width="19.6" height="45.6" fill="#030303"/>
<polygon points="483.3,917.0 495.1,917.0 489.2,923.2" fill="#3C3C3C" />
<rect x="499.0" y="925.0" width="19.7" height="36.8" fill="#888888"/>
<rect x="499.0" y="925.0" width="2" height="36.8" fill="#6A6A6A"/>
<rect x="516.2" y="925.0" width="2.5" height="36.8" fill="#6A6A6A"/>
<polygon points="500.0,925.5 517.7,925.5 508.9,933.0" fill="#DCDCDC" />
<rect x="548.2" y="803.6" width="19.6" height="158.2" fill="#030303"/>
<polygon points="552.1,804.4 563.9,804.4 558.0,810.6" fill="#3C3C3C" />
<rect x="567.8" y="903.1" width="19.0" height="58.7" fill="#888888"/>
<rect x="567.8" y="903.1" width="2" height="58.7" fill="#6A6A6A"/>
<rect x="584.3" y="903.1" width="2.5" height="58.7" fill="#6A6A6A"/>
<polygon points="568.8,903.6 585.8,903.6 577.3,911.1" fill="#DCDCDC" />
<rect x="616.3" y="749.4" width="19.9" height="212.4" fill="#030303"/>
<polygon points="620.3,750.2 632.2,750.2 626.2,756.4" fill="#3C3C3C" />
<rect x="636.2" y="863.3" width="18.7" height="98.5" fill="#888888"/>
<rect x="636.2" y="863.3" width="2" height="98.5" fill="#6A6A6A"/>
<rect x="652.4" y="863.3" width="2.5" height="98.5" fill="#6A6A6A"/>
<polygon points="637.2,863.8 653.9,863.8 645.5,871.3" fill="#DCDCDC" />
<line x1="489.2" y1="912.7" x2="489.2" y2="918.0" stroke="#000" stroke-width="2.2" />
<line x1="483.0" y1="912.7" x2="495.4" y2="912.7" stroke="#000" stroke-width="2.5" />
<line x1="508.9" y1="921.9" x2="508.9" y2="926.3" stroke="#000" stroke-width="2.2" />
<line x1="503.1" y1="921.9" x2="514.6" y2="921.9" stroke="#000" stroke-width="2.5" />
<line x1="503.1" y1="926.3" x2="514.6" y2="926.3" stroke="#000" stroke-width="2.5" />
<line x1="558.0" y1="794.4" x2="558.0" y2="806.0" stroke="#000" stroke-width="2.2" />
<line x1="552.0" y1="794.4" x2="564.0" y2="794.4" stroke="#000" stroke-width="2.5" />
<line x1="577.3" y1="897.5" x2="577.3" y2="907.4" stroke="#000" stroke-width="2.2" />
<line x1="570.8" y1="897.5" x2="583.8" y2="897.5" stroke="#000" stroke-width="2.5" />
<line x1="570.8" y1="907.4" x2="583.8" y2="907.4" stroke="#000" stroke-width="2.5" />
<line x1="626.2" y1="736.5" x2="626.2" y2="752.0" stroke="#000" stroke-width="2.2" />
<line x1="620.2" y1="736.5" x2="632.2" y2="736.5" stroke="#000" stroke-width="2.5" />
<line x1="645.5" y1="856.1" x2="645.5" y2="869.7" stroke="#000" stroke-width="2.2" />
<line x1="639.5" y1="856.1" x2="651.5" y2="856.1" stroke="#000" stroke-width="2.5" />
<line x1="639.5" y1="869.7" x2="651.5" y2="869.7" stroke="#000" stroke-width="2.5" />
<rect x="489" y="716.8" width="19.7" height="17.3" fill="#030303"/>
<polygon points="492.5,717.5 505.0,717.5 498.8,724.5" fill="#4A4A4A" />
<text x="518.2" y="733.4" font-size="22" fill="#000" >WT</text>
<rect x="489" y="754.4" width="19.7" height="17.6" fill="#8A8A8A"/>
<rect x="489" y="754.4" width="19.7" height="17.6" fill="none" stroke="#6a6a6a" stroke-width="1"/>
<polygon points="490.0,755.0 507.7,755.0 498.8,764.0" fill="#E2E2E2" />
<text x="512.8" y="770.1" font-size="22" fill="#000" >C119A</text>
<text x="488.5" y="990.6" font-size="22"><tspan font-style="italic">K</tspan><tspan font-size="14" dy="3">m</tspan></text>
<text x="496" y="1014.3" font-size="16" text-anchor="middle">(μM)</text>
<text x="552.2" y="990.6" font-size="22"><tspan font-style="italic">k</tspan><tspan font-size="14" dy="3">cat</tspan></text>
<text x="566.8" y="1014.3" font-size="16" text-anchor="middle">(min<tspan font-size="10" dy="-6">-1</tspan><tspan dy="6">)</tspan></text>
<text x="612.4" y="990.6" font-size="22"><tspan font-style="italic">k</tspan><tspan font-size="14" dy="3">cat</tspan><tspan dy="-3">/</tspan><tspan font-style="italic">K</tspan><tspan font-size="14" dy="3">m</tspan></text>
<text x="642.3" y="1014.3" font-size="16" text-anchor="middle">(min<tspan font-size="10" dy="-6">-1</tspan><tspan dy="6">mM</tspan><tspan font-size="10" dy="-6">-1</tspan><tspan dy="6">)</tspan></text>
</svg></body></html>
